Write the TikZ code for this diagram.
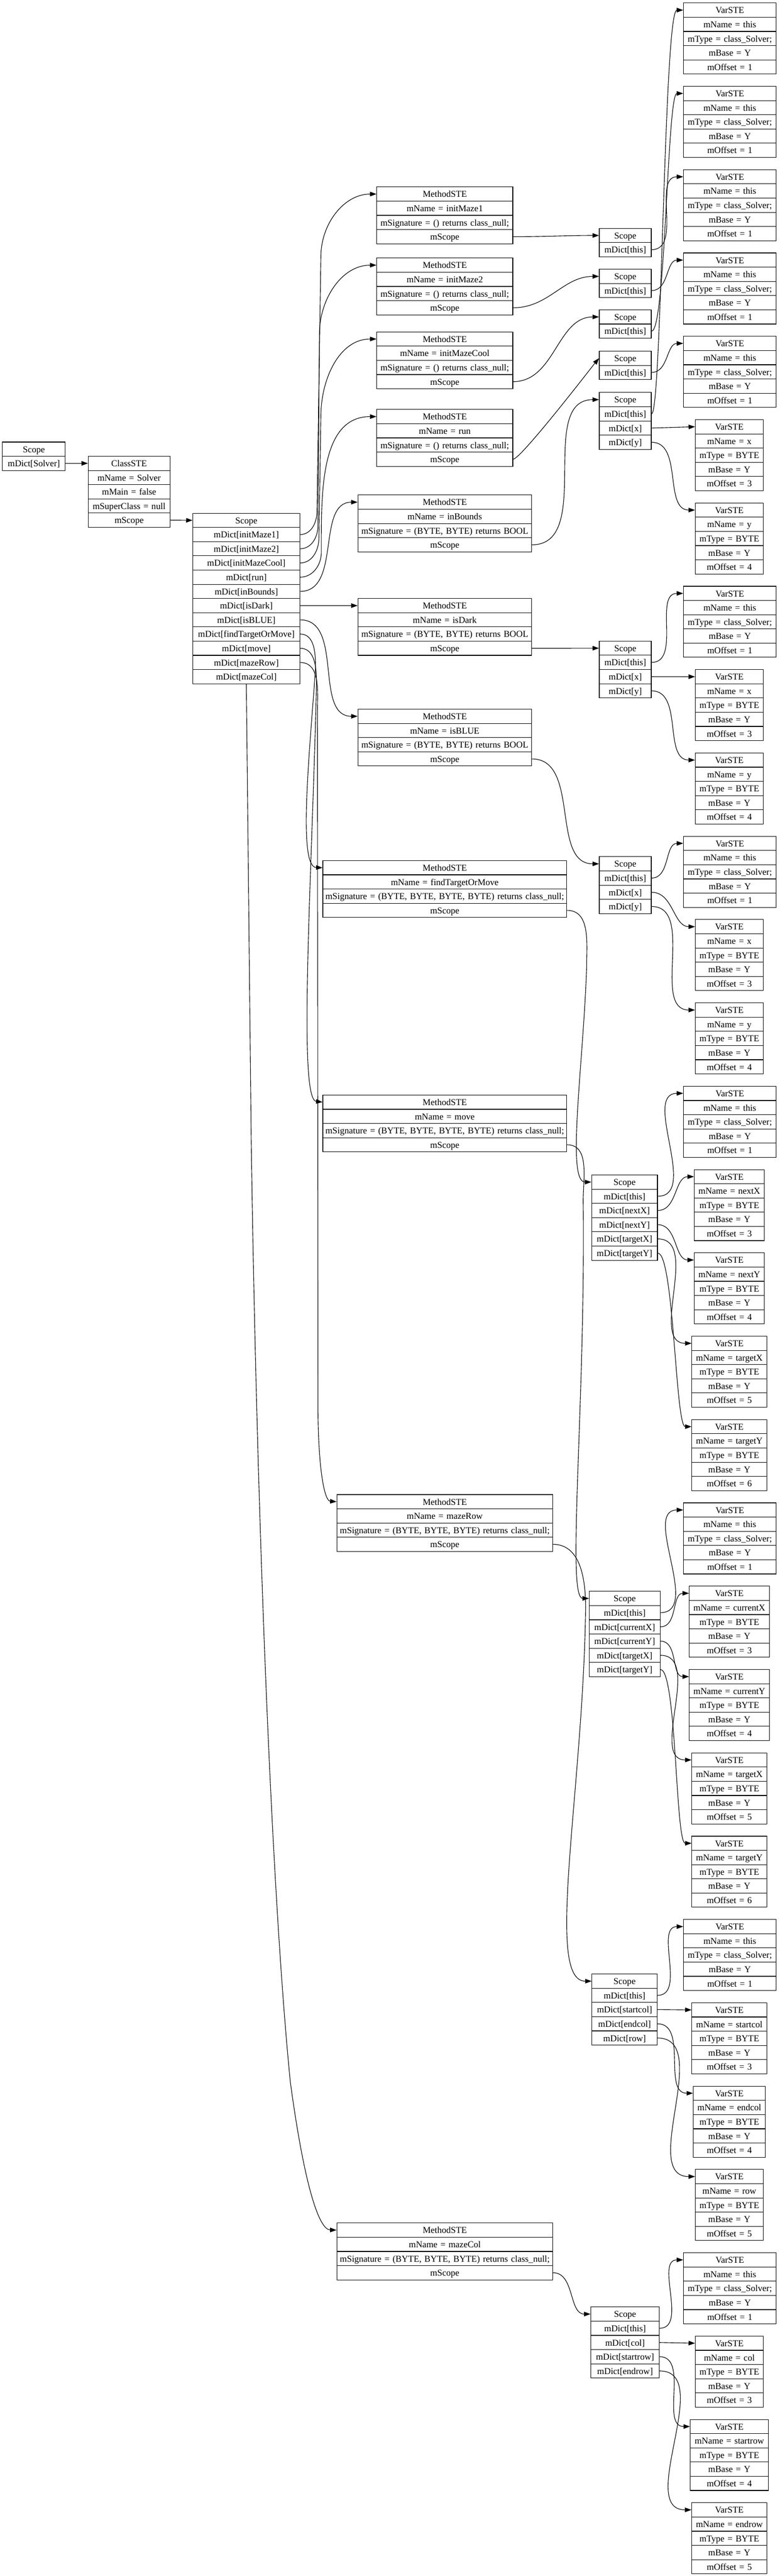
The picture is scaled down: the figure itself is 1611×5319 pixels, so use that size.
\documentclass[tikz,border=0pt]{standalone}
\usepackage{fontspec}
\setmainfont{Liberation Serif}
\usetikzlibrary{arrows.meta}

\newcommand\fieldfont{\fontsize{14pt}{16pt}\selectfont}
\newcommand\rowh{29.35}
\newcommand\record[5]{%
  \pgfmathsetlengthmacro\recwd{#4*0.75pt}%
  \foreach \fld [count=\i] in {#5}{%
    \node[field, minimum width=\recwd, text width=\recwd] (#1-\i) at (#2, {#3+(\i-0.5)*\rowh}) {\fld};
  }%
}

\begin{document}
\begin{tikzpicture}[
x=0.75pt, y=-0.75pt, line width=0.9pt,
field/.style={draw, rectangle, inner sep=0pt, minimum height=22.0125pt, text height=11pt, text depth=1pt, align=center, font=\fieldfont},
link/.style={-{Triangle[length=10pt,width=7pt]}}
]
\useasboundingbox (0,0) rectangle (1611,5319);

\record{G}{70}{912.7}{129.5}{Scope,mDict[Solver]}
\record{C}{266.8}{942}{169}{ClassSTE,mName = Solver,mMain = false,mSuperClass = null,mScope}
\record{CS}{509}{1059.7}{221}{Scope,mDict[initMaze1],mDict[initMaze2],mDict[initMazeCool],mDict[run],mDict[inBounds],mDict[isDark],mDict[isBLUE],mDict[findTargetOrMove],mDict[move],mDict[mazeRow],mDict[mazeCol]}

\record{M1}{919}{386}{281}{MethodSTE,mName = initMaze1,mSignature = () returns class\_null;,mScope}
\record{M2}{919}{532.8}{281}{MethodSTE,mName = initMaze2,mSignature = () returns class\_null;,mScope}
\record{M3}{919}{685.3}{281}{MethodSTE,mName = initMazeCool,mSignature = () returns class\_null;,mScope}
\record{M4}{919}{845.5}{281}{MethodSTE,mName = run,mSignature = () returns class\_null;,mScope}
\record{M5}{919}{1022.2}{359}{MethodSTE,mName = inBounds,{mSignature = (BYTE, BYTE) returns BOOL},mScope}
\record{M6}{919}{1235.8}{359}{MethodSTE,mName = isDark,{mSignature = (BYTE, BYTE) returns BOOL},mScope}
\record{M7}{919}{1464.3}{359}{MethodSTE,mName = isBLUE,{mSignature = (BYTE, BYTE) returns BOOL},mScope}
\record{M8}{919}{1777}{504}{MethodSTE,mName = findTargetOrMove,{mSignature = (BYTE, BYTE, BYTE, BYTE) returns class\_null;},mScope}
\record{M9}{919}{2261}{504}{MethodSTE,mName = move,{mSignature = (BYTE, BYTE, BYTE, BYTE) returns class\_null;},mScope}
\record{M10}{919}{3086}{446}{MethodSTE,mName = mazeRow,{mSignature = (BYTE, BYTE, BYTE) returns class\_null;},mScope}
\record{M11}{919}{4590}{446}{MethodSTE,mName = mazeCol,{mSignature = (BYTE, BYTE, BYTE) returns class\_null;},mScope}

\record{S1}{1292}{471.5}{107.5}{Scope,mDict[this]}
\record{S2}{1292}{556}{107.5}{Scope,mDict[this]}
\record{S3}{1292}{639.7}{107.5}{Scope,mDict[this]}
\record{S4}{1292}{725}{107.5}{Scope,mDict[this]}
\record{S5}{1292}{810.5}{107.5}{Scope,mDict[this],mDict[x],mDict[y]}
\record{S6}{1292}{1323.7}{107.5}{Scope,mDict[this],mDict[x],mDict[y]}
\record{S7}{1292}{1769}{107.5}{Scope,mDict[this],mDict[x],mDict[y]}
\record{S8}{1290.5}{2426}{136}{Scope,mDict[this],mDict[nextX],mDict[nextY],mDict[targetX],mDict[targetY]}
\record{S9}{1290.8}{3285.8}{146.5}{Scope,mDict[this],mDict[currentX],mDict[currentY],mDict[targetX],mDict[targetY]}
\record{S10}{1290.5}{4076}{135}{Scope,mDict[this],mDict[startcol],mDict[endcol],mDict[row]}
\record{S11}{1291.5}{4763.4}{141.5}{Scope,mDict[this],mDict[col],mDict[startrow],mDict[endrow]}

\record{V0}{1508}{6.2}{191.5}{VarSTE,mName = this,mType = class\_Solver;,mBase = Y,mOffset = 1}
\record{V1}{1508}{178.25}{191.5}{VarSTE,mName = this,mType = class\_Solver;,mBase = Y,mOffset = 1}
\record{V2}{1508}{350.3}{191.5}{VarSTE,mName = this,mType = class\_Solver;,mBase = Y,mOffset = 1}
\record{V3}{1508}{522.35}{191.5}{VarSTE,mName = this,mType = class\_Solver;,mBase = Y,mOffset = 1}
\record{V4}{1508}{694.4}{191.5}{VarSTE,mName = this,mType = class\_Solver;,mBase = Y,mOffset = 1}
\record{V5}{1507}{866.45}{140.6}{VarSTE,mName = x,mType = BYTE,mBase = Y,mOffset = 3}
\record{V6}{1507}{1038.5}{140.6}{VarSTE,mName = y,mType = BYTE,mBase = Y,mOffset = 4}
\record{V7}{1508}{1210.55}{191.5}{VarSTE,mName = this,mType = class\_Solver;,mBase = Y,mOffset = 1}
\record{V8}{1507}{1382.6}{140.6}{VarSTE,mName = x,mType = BYTE,mBase = Y,mOffset = 3}
\record{V9}{1507}{1554.65}{140.6}{VarSTE,mName = y,mType = BYTE,mBase = Y,mOffset = 4}
\record{V10}{1508}{1726.7}{191.5}{VarSTE,mName = this,mType = class\_Solver;,mBase = Y,mOffset = 1}
\record{V11}{1507}{1898.75}{140.6}{VarSTE,mName = x,mType = BYTE,mBase = Y,mOffset = 3}
\record{V12}{1507}{2070.8}{140.6}{VarSTE,mName = y,mType = BYTE,mBase = Y,mOffset = 4}
\record{V13}{1508}{2242.85}{191.5}{VarSTE,mName = this,mType = class\_Solver;,mBase = Y,mOffset = 1}
\record{V14}{1507}{2414.9}{145}{VarSTE,mName = nextX,mType = BYTE,mBase = Y,mOffset = 3}
\record{V15}{1507}{2586.95}{145}{VarSTE,mName = nextY,mType = BYTE,mBase = Y,mOffset = 4}
\record{V16}{1507}{2759}{155}{VarSTE,mName = targetX,mType = BYTE,mBase = Y,mOffset = 5}
\record{V17}{1507}{2931.05}{155}{VarSTE,mName = targetY,mType = BYTE,mBase = Y,mOffset = 6}
\record{V18}{1508}{3103.1}{191.5}{VarSTE,mName = this,mType = class\_Solver;,mBase = Y,mOffset = 1}
\record{V19}{1507}{3275.15}{165.6}{VarSTE,mName = currentX,mType = BYTE,mBase = Y,mOffset = 3}
\record{V20}{1507}{3447.2}{165.6}{VarSTE,mName = currentY,mType = BYTE,mBase = Y,mOffset = 4}
\record{V21}{1507}{3619.25}{155}{VarSTE,mName = targetX,mType = BYTE,mBase = Y,mOffset = 5}
\record{V22}{1507}{3791.3}{155}{VarSTE,mName = targetY,mType = BYTE,mBase = Y,mOffset = 6}
\record{V23}{1508}{3963.35}{191.5}{VarSTE,mName = this,mType = class\_Solver;,mBase = Y,mOffset = 1}
\record{V24}{1507}{4135.4}{155}{VarSTE,mName = startcol,mType = BYTE,mBase = Y,mOffset = 3}
\record{V25}{1507}{4307.45}{149}{VarSTE,mName = endcol,mType = BYTE,mBase = Y,mOffset = 4}
\record{V26}{1507}{4479.5}{140.6}{VarSTE,mName = row,mType = BYTE,mBase = Y,mOffset = 5}
\record{V27}{1508}{4651.55}{191.5}{VarSTE,mName = this,mType = class\_Solver;,mBase = Y,mOffset = 1}
\record{V28}{1507}{4823.6}{140.6}{VarSTE,mName = col,mType = BYTE,mBase = Y,mOffset = 3}
\record{V29}{1507}{4995.65}{161.5}{VarSTE,mName = startrow,mType = BYTE,mBase = Y,mOffset = 4}
\record{V30}{1507}{5167.7}{155.7}{VarSTE,mName = endrow,mType = BYTE,mBase = Y,mOffset = 5}

\draw[link] (G-2.east) -- (C-1.west);
\draw[link] (C-5.east) -- (CS-1.west);

\draw[link] (CS-2.east) to[out=0,in=-90] (655,1055) -- (663,530) to[out=90,in=180] (M1-1.west);
\draw[link] (CS-3.east) to[out=0,in=-90] (657,1085) -- (660,690) to[out=90,in=180] (M2-1.west);
\draw[link] (CS-4.east) to[out=0,in=-90] (659,1110) -- (663,860) to[out=90,in=180] (M3-1.west);
\draw[link] (CS-5.east) to[out=0,in=-90] (664,1140) to[out=90,in=180] (M4-1.west);
\draw[link] (CS-6.east) to[out=0,in=180] (M5-1.west);
\draw[link] (CS-7.east) -- (M6-1.west);
\draw[link] (CS-8.east) to[out=0,in=180] (M7-1.west);
\draw[link] (CS-9.east) to[out=0,in=90] (652,1380) .. controls (640,1550) and (615,1790) .. (M8-1.west);
\draw[link] (CS-10.east) to[out=0,in=90] (654,1410) .. controls (645,1800) and (615,2270) .. (M9-1.west);
\draw[link] (CS-11.east) to[out=0,in=90] (656,1470) -- (657,2900) .. controls (657,3030) and (670,3099) .. (M10-1.west);
\draw[link] (CS-12.south) -- (519,2350) .. controls (530,3100) and (560,3900) .. (600,4300) .. controls (630,4520) and (660,4604) .. (M11-1.west);

\draw[link] (M1-4.east) to[out=0,in=180] (S1-1.west);
\draw[link] (M2-4.east) to[out=0,in=180] (S2-1.west);
\draw[link] (M3-4.east) to[out=0,in=180] (S3-1.west);
\draw[link] (M4-4.east) to[out=0,in=230,distance=12pt] (S4-1.west);
\draw[link] (M5-4.east) to[out=0,in=180] (S5-1.west);
\draw[link] (M6-4.east) -- (S6-1.west);
\draw[link] (M7-4.east) to[out=0,in=180] (S7-1.west);
\draw[link] (M8-4.east) to[out=0,in=90] (1212,2000) .. controls (1205,2200) and (1170,2441) .. (S8-1.west);
\draw[link] (M9-4.east) to[out=0,in=90] (1205,2480) .. controls (1210,2900) and (1170,3300) .. (S9-1.west);
\draw[link] (M10-4.east) to[out=0,in=90] (1210,3320) .. controls (1205,3700) and (1125,4091) .. (S10-1.west);
\draw[link] (M11-4.east) to[out=0,in=180] (S11-1.west);

\draw[link] (S1-2.east) to[out=0,in=180] (V2-1.west);
\draw[link] (S2-2.east) to[out=0,in=180] (V3-1.west);
\draw[link] (S3-2.east) to[out=0,in=180,out distance=22pt,in distance=25pt] (V1-1.west);
\draw[link] (S4-2.east) to[out=0,in=180] (V4-1.west);
\draw[link] (S5-2.east) to[out=0,in=180,out distance=16pt,in distance=30pt] (V0-1.west);
\draw[link] (S5-3.east) -- (V5-1.west);
\draw[link] (S5-4.east) to[out=0,in=180] (V6-1.west);

\draw[link] (S6-2.east) to[out=0,in=180] (V7-1.west);
\draw[link] (S6-3.east) -- (V8-1.west);
\draw[link] (S6-4.east) to[out=0,in=180] (V9-1.west);

\draw[link] (S7-2.east) to[out=0,in=180] (V10-1.west);
\draw[link] (S7-3.east) to[out=0,in=180] (V11-1.west);
\draw[link] (S7-4.east) to[out=0,in=180] (V12-1.west);

\draw[link] (S8-2.east) to[out=0,in=180] (V13-1.west);
\draw[link] (S8-3.east) to[out=0,in=180] (V14-1.west);
\draw[link] (S8-4.east) to[out=0,in=180] (V15-1.west);
\draw[link] (S8-5.east) to[out=0,in=180] (V16-1.west);
\draw[link] (S8-6.east) to[out=0,in=180,distance=25pt] (V17-1.west);

\draw[link] (S9-2.east) to[out=0,in=180] (V18-1.west);
\draw[link] (S9-3.east) to[out=0,in=180] (V19-1.west);
\draw[link] (S9-4.east) to[out=0,in=180] (V20-1.west);
\draw[link] (S9-5.east) to[out=0,in=180] (V21-1.west);
\draw[link] (S9-6.east) to[out=0,in=180,distance=25pt] (V22-1.west);

\draw[link] (S10-2.east) to[out=0,in=180] (V23-1.west);
\draw[link] (S10-3.east) -- (V24-1.west);
\draw[link] (S10-4.east) to[out=0,in=180] (V25-1.west);
\draw[link] (S10-5.east) to[out=0,in=180] (V26-1.west);

\draw[link] (S11-2.east) to[out=0,in=180] (V27-1.west);
\draw[link] (S11-3.east) -- (V28-1.west);
\draw[link] (S11-4.east) to[out=0,in=180] (V29-1.west);
\draw[link] (S11-5.east) to[out=0,in=180] (V30-1.west);
\end{tikzpicture}
\end{document}
